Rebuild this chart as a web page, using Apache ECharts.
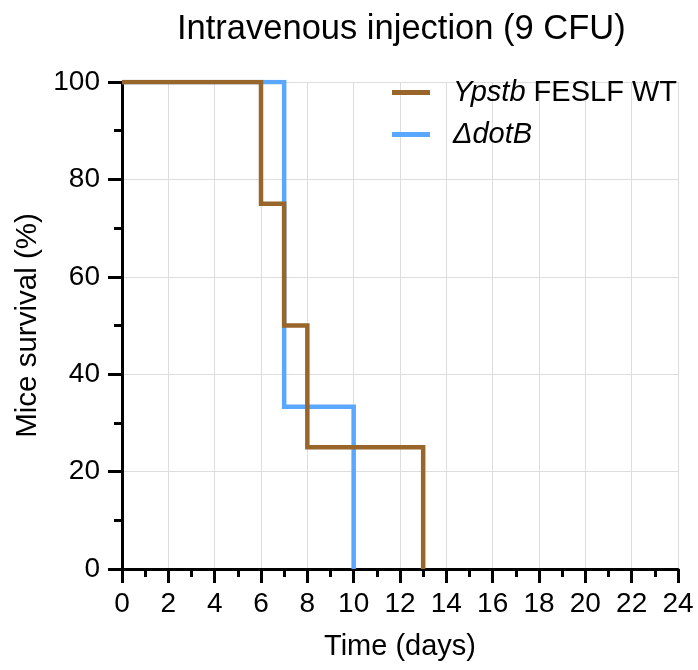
<!DOCTYPE html>
<html>
<head>
<meta charset="utf-8">
<script src="https://cdn.jsdelivr.net/npm/echarts@6/dist/echarts.min.js"></script>
<style>
  html, body { margin: 0; padding: 0; background: #fff; }
  #chart { width: 698px; height: 670px; }
</style>
</head>
<body>
<div id="chart"></div>
<script>
// survival curves
const seriesNames = ['Ypstb FESLF WT', 'ΔdotB'];
const wtDays = [0, 6, 7, 8, 13];
const wtSurvival = [100, 75, 50, 25, 0];
const dotbDays = [0, 7, 10];
const dotbSurvival = [100, 33.33, 0];

const font = 'Liberation Sans, Arial, sans-serif';
const brown = '#98652a';
const blue = '#5aa7ff';

const chart = echarts.init(document.getElementById('chart'));

function pairs(xs, ys) {
  return xs.map((x, i) => [x, ys[i]]);
}

chart.setOption({
  animation: false,
  title: {
    text: 'Intravenous injection (9 CFU)',
    left: 172,
    top: 7,
    textStyle: { fontFamily: font, fontSize: 34.5, fontWeight: 'normal', color: '#000' }
  },
  legend: {
    data: seriesNames,
    left: 387,
    top: 73,
    orient: 'vertical',
    itemWidth: 38,
    itemHeight: 5,
    itemGap: 13,
    icon: 'rect',
    formatter: function (name) {
      // 斜体部分
      if (name === seriesNames[0]) return '{i|Ypstb} FESLF WT';
      return '{i|ΔdotB}';
    },
    textStyle: {
      fontFamily: font, fontSize: 29, color: '#000',
      padding: [0, 0, 0, 18],
      rich: { i: { fontFamily: font, fontSize: 29, fontStyle: 'italic', color: '#000' } }
    }
  },
  grid: { left: 122, right: 20, top: 82, bottom: 101 },
  xAxis: {
    type: 'value',
    min: 0,
    max: 24,
    interval: 2,
    name: 'Time (days)',
    nameLocation: 'middle',
    nameGap: 63,
    nameTextStyle: { fontFamily: font, fontSize: 29, color: '#000' },
    axisLine: { show: true, lineStyle: { color: '#000', width: 3 } },
    axisTick: { show: true, length: 14, lineStyle: { color: '#000', width: 3 } },
    minorTick: { show: true, splitNumber: 2, length: 8, lineStyle: { color: '#000', width: 3 } },
    axisLabel: { fontFamily: font, fontSize: 28, color: '#000', margin: 21 },
    splitLine: { show: true, lineStyle: { color: '#dddddd', width: 1 } }
  },
  yAxis: {
    type: 'value',
    min: 0,
    max: 100,
    interval: 20,
    name: 'Mice survival (%)',
    nameLocation: 'middle',
    nameGap: 78,
    nameTextStyle: { fontFamily: font, fontSize: 29.5, color: '#000' },
    axisLine: { show: true, lineStyle: { color: '#000', width: 3 } },
    axisTick: { show: true, length: 14, lineStyle: { color: '#000', width: 3 } },
    minorTick: { show: true, splitNumber: 2, length: 8, lineStyle: { color: '#000', width: 3 } },
    axisLabel: { fontFamily: font, fontSize: 28, color: '#000', margin: 22 },
    splitLine: { show: true, lineStyle: { color: '#dddddd', width: 1 } }
  },
  series: [
    {
      name: seriesNames[1],
      type: 'line',
      step: 'end',
      showSymbol: false,
      symbol: 'none',
      color: blue,
      lineStyle: { color: blue, width: 4.5, join: 'miter' },
      data: pairs(dotbDays, dotbSurvival)
    },
    {
      name: seriesNames[0],
      type: 'line',
      step: 'end',
      showSymbol: false,
      symbol: 'none',
      color: brown,
      lineStyle: { color: brown, width: 4.5, join: 'miter' },
      data: pairs(wtDays, wtSurvival)
    }
  ]
});
</script>
</body>
</html>
